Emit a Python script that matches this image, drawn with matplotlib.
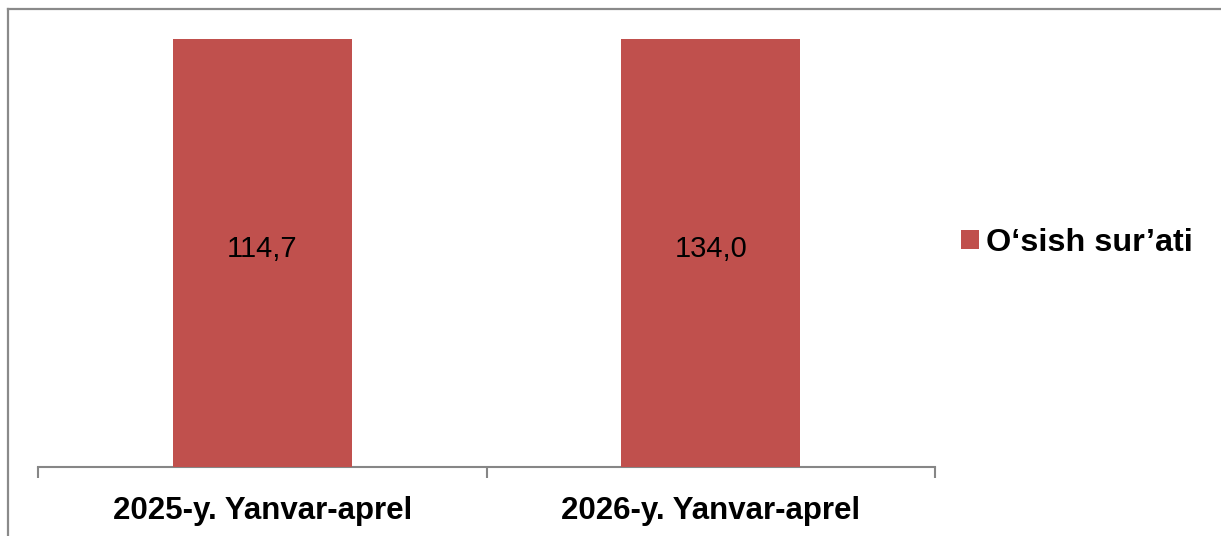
import matplotlib.pyplot as plt
import numpy as np
from matplotlib.lines import Line2D
from matplotlib.patches import Patch

# data
categories = ['2025-y. Yanvar-aprel', '2026-y. Yanvar-aprel']
values = np.array([114.7, 134.0])
value_labels = ['114,7', '134,0']
series_name = 'O\u2018sish sur\u2019ati'

# 100% stacked column with a single series -> every column fills the axis
totals = values.copy()
shares = values / totals

bar_color = '#C0504D'
axis_color = '#868686'
W, H = 1221, 536

plt.rcParams['font.family'] = ['Liberation Sans', 'DejaVu Sans']

fig = plt.figure(figsize=(W/100, H/100), dpi=100)
ax = fig.add_axes([38/W, 1 - 467/H, (935-38)/W, (467-39)/H])

x = np.arange(len(categories))
ax.bar(x, shares, width=0.4, color=bar_color, zorder=3, label=series_name)
for xi, s, lab in zip(x, shares, value_labels):
    ax.text(xi, s/2 + 0.01, lab, ha='center', va='center', fontsize=21, color='black', zorder=4)

ax.set_xlim(-0.5, len(categories) - 0.5)
ax.set_ylim(0, 1)
for side in ['top', 'right', 'left']:
    ax.spines[side].set_visible(False)
ax.spines['bottom'].set_color(axis_color)
ax.spines['bottom'].set_linewidth(1.5)
ax.set_yticks([])
ax.set_xticks([-0.5, 0.5, 1.5], minor=True)
ax.set_xticks(x)
ax.set_xticklabels(categories, fontsize=22.5, fontweight='bold')
ax.tick_params(axis='x', which='major', length=0, pad=21)
ax.tick_params(axis='x', which='minor', length=8, width=1.5, color=axis_color)

# legend
handle = Patch(facecolor=bar_color, edgecolor='none')
fig.legend([handle], [series_name], loc='center left',
           bbox_to_anchor=(961/W, 1 - 243/H), frameon=False,
           prop={'size': 23.3, 'weight': 'bold'},
           handlelength=0.55, handleheight=0.55, handletextpad=0.22,
           borderpad=0, borderaxespad=0)

# outer chart frame (top and left edges visible)
fig.add_artist(Line2D([8/W, 1.0], [1 - 9/H, 1 - 9/H], transform=fig.transFigure,
                      color='#8a8a8a', lw=1.6))
fig.add_artist(Line2D([8/W, 8/W], [0, 1 - 9/H], transform=fig.transFigure,
                      color='#8a8a8a', lw=1.6))

fig.savefig('out.png', dpi=100)
